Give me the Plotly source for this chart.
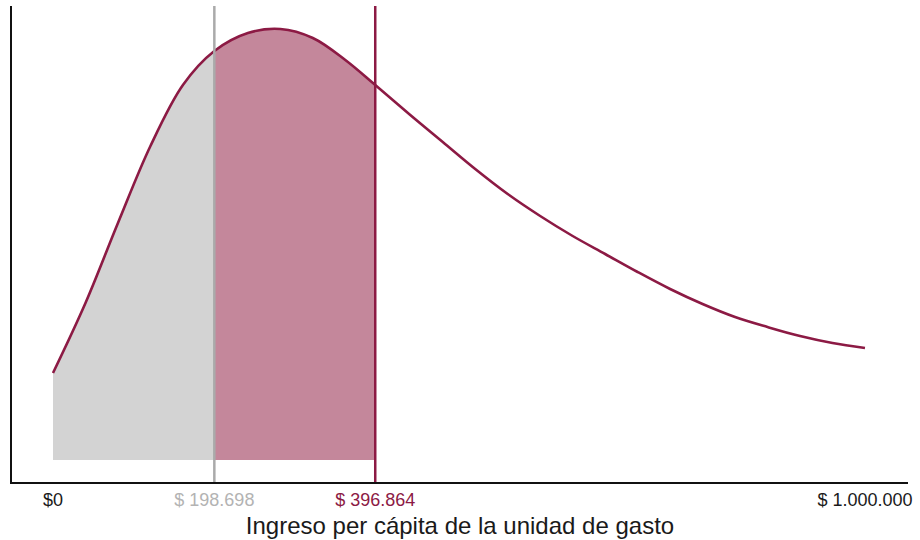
import plotly.graph_objects as go

# Income (x) and relative density (y)
income = [0, 40000, 80000, 120000, 160000, 198698, 240000, 280000, 320000, 360000,
          396864, 440000, 480000, 520000, 560000, 600000, 640000, 680000, 720000,
          760000, 800000, 840000, 880000, 920000, 960000, 1000000]
density = [87, 157, 237, 314, 375, 409, 427, 431, 422, 400,
           375, 345, 318, 291, 266, 244, 224, 206, 188,
           171, 156, 143, 133, 124, 117, 112]

cut_low = 198698
cut_high = 396864

tick_vals = [0, cut_low, cut_high, 1000000]
tick_labels = ["$0", "$ 198.698", "$ 396.864", "$ 1.000.000"]
tick_colors = ["#1a1a1a", "#b3b3b3", "#8c1a44", "#1a1a1a"]

LINE = "#8c1a44"
GRAY_LINE = "#aaaaaa"

fig = go.Figure()

gx = [x for x in income if x <= cut_low]
gy = [y for x, y in zip(income, density) if x <= cut_low]
rx = [x for x in income if cut_low <= x <= cut_high]
ry = [y for x, y in zip(income, density) if cut_low <= x <= cut_high]

fig.add_trace(go.Scatter(x=gx, y=gy, fill="tozeroy", mode="lines",
                         line=dict(width=0, shape="spline"),
                         fillcolor="#d3d3d3", hoverinfo="skip", showlegend=False))
fig.add_trace(go.Scatter(x=rx, y=ry, fill="tozeroy", mode="lines",
                         line=dict(width=0, shape="spline"),
                         fillcolor="#c4879b", hoverinfo="skip", showlegend=False))
fig.add_trace(go.Scatter(x=income, y=density, mode="lines",
                         line=dict(color=LINE, width=2.6, shape="spline"),
                         showlegend=False))

fig.add_shape(type="line", xref="x", yref="paper", x0=cut_low, x1=cut_low, y0=0, y1=1,
              line=dict(color=GRAY_LINE, width=2.5))
fig.add_shape(type="line", xref="x", yref="paper", x0=cut_high, x1=cut_high, y0=0, y1=1,
              line=dict(color=LINE, width=2.5))

ticktext = [f'<span style="color:{c}">{t}</span>' for t, c in zip(tick_labels, tick_colors)]

fig.update_layout(
    width=920, height=540,
    margin=dict(l=12, r=12, t=6, b=58, autoexpand=False),
    paper_bgcolor="white", plot_bgcolor="white",
    font=dict(family="Liberation Sans, Arial, sans-serif", color="#1a1a1a"),
    xaxis=dict(range=[-50500, 1053000], tickmode="array", tickvals=tick_vals,
               ticktext=ticktext, showgrid=False, zeroline=False,
               showline=True, linecolor="#111111", linewidth=2,
               ticks="", tickfont=dict(size=18), automargin=False,
               title=dict(text="Ingreso per cápita de la unidad de gasto",
                          font=dict(size=24), standoff=9)),
    yaxis=dict(range=[-22, 454], showticklabels=False, showgrid=False,
               zeroline=False, showline=True, linecolor="#111111", linewidth=2,
               ticks="", automargin=False),
)

fig.write_html("out.html", config={"displayModeBar": False},
               post_script="document.body.style.margin='0';document.body.style.overflow='hidden';")
